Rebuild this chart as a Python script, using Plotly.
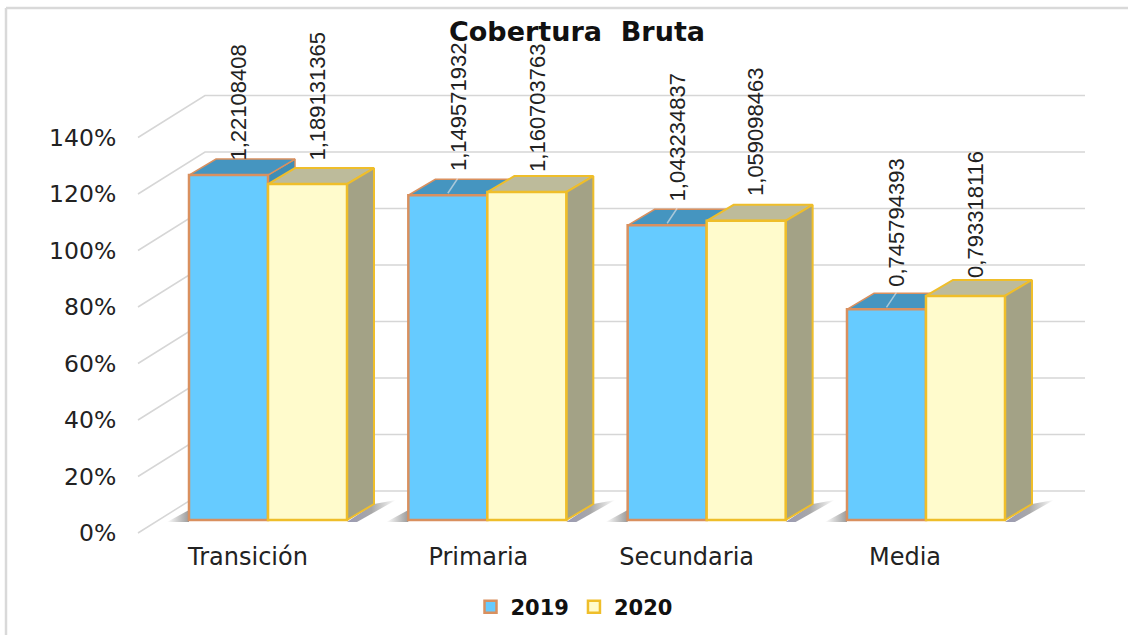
import plotly.graph_objects as go

# ---- data ----
categories = ["Transición", "Primaria", "Secundaria", "Media"]
series_names = ["2019", "2020"]
values_2019 = [1.22108408, 1.149571932, 1.043234837, 0.745794393]
values_2020 = [1.189131365, 1.160703763, 1.059098463, 0.793318116]
y_ticks = [0, 0.2, 0.4, 0.6, 0.8, 1.0, 1.2, 1.4]
y_tick_labels = ["0%", "20%", "40%", "60%", "80%", "100%", "120%", "140%"]

# ---- geometry (pixels of the 1128x635 picture) ----
W, H = 1128, 635
PX_PER_UNIT = 282.5     # y scale
PX_PER_CAT = 219.33     # x scale
X0_PX, Y0_PX = 268, 520 # pixel of category 0 boundary / of value 0 at bar front
LEFT_PX, BOTTOM_PX = 124, 540
BAR_W = 79 / PX_PER_CAT
dxp = lambda p: p / PX_PER_CAT
dyp = lambda p: p / PX_PER_UNIT
px2x = lambda p: (p - X0_PX) / PX_PER_CAT
py2y = lambda p: (Y0_PX - p) / PX_PER_UNIT
DEPTH_X, DEPTH_Y = dxp(27), dyp(16)

xr = [px2x(LEFT_PX), px2x(W)]
yr = [py2y(BOTTOM_PX), py2y(0)]

BLUE, BLUE_LINE, BLUE_TOP, BLUE_SIDE = "#66CBFF", "#D9905F", "#4595C0", "#3F8DB5"
YEL, YEL_LINE, YEL_TOP, YEL_SIDE = "#FFFBCC", "#EFBE2A", "#BDBB9B", "#A3A286"
GRID = "#D6D6D6"
FONT = "DejaVu Sans"
TXT = "#222222"

fig = go.Figure()


def poly(xs, ys, fill, line=None, lw=1.5, **kw):
    fig.add_trace(go.Scatter(
        x=xs, y=ys, mode="lines", fill="toself", fillcolor=fill,
        line=dict(color=line or fill, width=lw if line else 0),
        hoverinfo="skip", showlegend=False, xaxis="x", yaxis="y", **kw))


def seg(xs, ys, color, width):
    fig.add_trace(go.Scatter(
        x=xs, y=ys, mode="lines", line=dict(color=color, width=width),
        hoverinfo="skip", showlegend=False, xaxis="x", yaxis="y"))


# gridlines: back wall and left wall
for t in y_ticks:
    back = t + dyp(29)
    front = t - dyp(13)
    seg([px2x(138), px2x(205), px2x(1085)], [front, back, back], GRID, 1.5)

# floor shadows next to each cluster
for i in range(len(categories)):
    right = i + BAR_W
    left = i - BAR_W
    poly([right, right + DEPTH_X, right + DEPTH_X + dxp(22), right + dxp(10), right],
         [-dyp(2), DEPTH_Y, DEPTH_Y + dyp(4), -dyp(2), -dyp(2)],
         "#BBBBBB", fillgradient=dict(type="horizontal",
                                      colorscale=[[0, "#9A9AB4"], [0.5, "#A8A8A8"], [1, "#FFFFFF"]]))
    poly([left, left - dxp(22), left],
         [dyp(10), -dyp(2), -dyp(2)],
         "#BBBBBB", fillgradient=dict(type="horizontal", colorscale=[[0, "#FFFFFF"], [1, "#9A9A9A"]]))

# 3-D faces: first 2019, then 2020 which sits in front of it
for i, v in enumerate(values_2019):
    l, r = i - BAR_W, i
    poly([r, r + DEPTH_X, r + DEPTH_X, r, r], [0, DEPTH_Y, v + DEPTH_Y, v, 0], BLUE_SIDE, BLUE_LINE)
    poly([l, l + DEPTH_X, r + DEPTH_X, r, l], [v, v + DEPTH_Y, v + DEPTH_Y, v, v], BLUE_TOP, BLUE_LINE)
    if i > 0:
        c = i - BAR_W / 2
        seg([c, c + dxp(10)], [v + dyp(2), v + dyp(17)], "rgba(235,235,235,0.6)", 1.5)
for i, v in enumerate(values_2020):
    l, r = i, i + BAR_W
    poly([l, l + DEPTH_X, r + DEPTH_X, r, l], [v, v + DEPTH_Y, v + DEPTH_Y, v, v], YEL_TOP, YEL_LINE, 2)
    poly([r, r + DEPTH_X, r + DEPTH_X, r, r], [0, DEPTH_Y, v + DEPTH_Y, v, 0], YEL_SIDE, YEL_LINE, 2)

# front faces as real bars on an overlaying axis pair
for name, vals, off, fill, edge in [
    (series_names[0], values_2019, -BAR_W, BLUE, BLUE_LINE),
    (series_names[1], values_2020, 0, YEL, YEL_LINE),
]:
    fig.add_trace(go.Bar(
        name=name, x=list(range(len(categories))), y=vals, width=BAR_W, offset=off,
        marker=dict(color=fill, line=dict(color=edge, width=2.5)),
        xaxis="x2", yaxis="y2", hoverinfo="skip"))

# rotated data labels
label_lift = [[13, 23, 23, 22], [22, 19, 24, 17]]
for s, (vals, off) in enumerate([(values_2019, -BAR_W / 2), (values_2020, BAR_W / 2)]):
    for i, v in enumerate(vals):
        fig.add_annotation(
            x=i + off, y=v, xref="x2", yref="y2", text=f"{v}".replace(".", ","),
            textangle=-90, showarrow=False, yanchor="bottom", xanchor="center",
            xshift=10, yshift=label_lift[s][i], borderpad=0,
            font=dict(family="Liberation Sans", size=22, color=TXT))

# picture frame
frame = dict(type="line", xref="paper", yref="paper", line=dict(color="#D9D9D9", width=2.5), layer="below")
fig.add_shape(x0=6 / W, x1=1, y0=1 - 8 / H, y1=1 - 8 / H, **frame)
fig.add_shape(x0=6 / W, x1=6 / W, y0=0, y1=1 - 8 / H, **frame)

xdom = [LEFT_PX / W, 1]
ydom = [(H - BOTTOM_PX) / H, 1]
cat_ticks = [i + dxp(o) for i, o in enumerate([-20, -9, -20, -21])]
fig.update_layout(
    width=W, height=H, autosize=False,
    margin=dict(l=0, r=0, t=0, b=0, autoexpand=False),
    paper_bgcolor="white", plot_bgcolor="rgba(0,0,0,0)",
    barmode="overlay",
    title=dict(text="Cobertura  Bruta", x=577 / W, y=1 - 32 / H, xanchor="center", yanchor="middle",
               font=dict(family=FONT, size=27, color="#111111", weight="bold")),
    legend=dict(orientation="h", x=574 / W, y=1 - 607 / H, xanchor="center", yanchor="middle",
                font=dict(family=FONT, size=21, color="#111111", weight="bold"),
                bgcolor="rgba(0,0,0,0)", itemclick=False, itemdoubleclick=False),
    showlegend=True,
    xaxis=dict(domain=xdom, range=xr, showgrid=False, zeroline=False, showline=False,
               tickmode="array", tickvals=cat_ticks, ticktext=categories, ticks="",
               tickfont=dict(family=FONT, size=24, color=TXT)),
    yaxis=dict(domain=ydom, range=yr, showgrid=False, zeroline=False, showline=False,
               tickmode="array", tickvals=[t - dyp(13) for t in y_ticks], ticktext=y_tick_labels,
               ticks="outside", ticklen=2, tickcolor="rgba(0,0,0,0)",
               tickfont=dict(family=FONT, size=23.5, color=TXT)),
    xaxis2=dict(domain=xdom, range=xr, overlaying="x", visible=False, anchor="y2"),
    yaxis2=dict(domain=ydom, range=yr, overlaying="y", visible=False, anchor="x2"),
)

fig.write_html("out.html", config=dict(displayModeBar=False),
               post_script="document.body.style.margin='0';")
